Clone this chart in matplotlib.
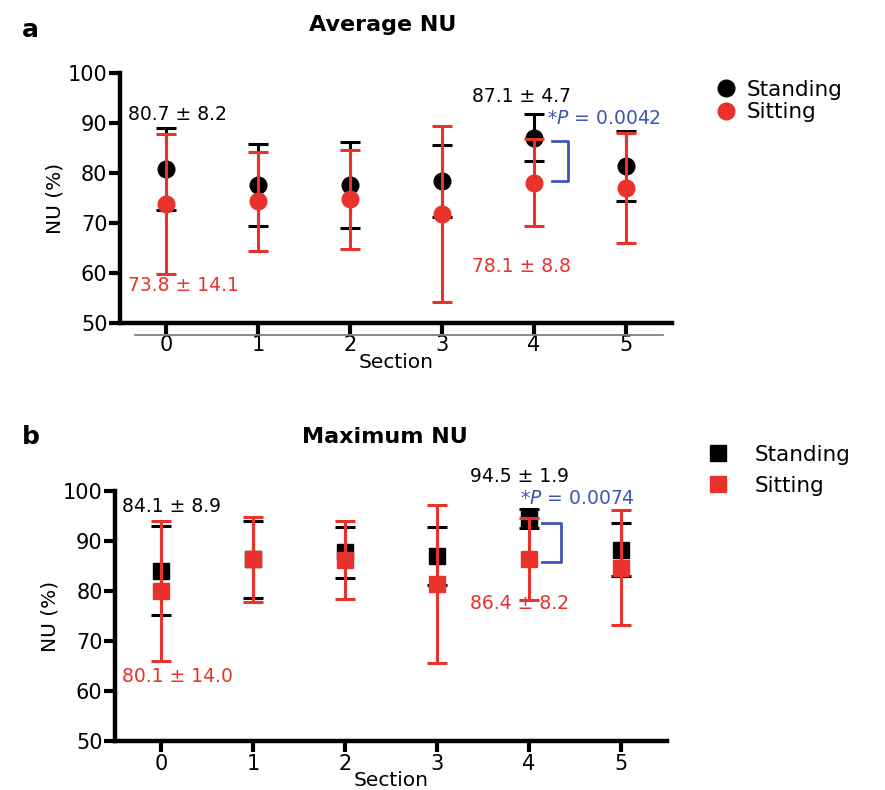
import numpy as np
import matplotlib.pyplot as plt
from matplotlib.lines import Line2D

# Dados (media +- DP)
secoes = [0, 1, 2, 3, 4, 5]

# painel a: NU medio
med_em_pe = [80.7, 77.6, 77.6, 78.4, 87.1, 81.4]
dp_em_pe = [8.2, 8.3, 8.6, 7.2, 4.7, 7.0]
med_sentado = [73.8, 74.3, 74.7, 71.8, 78.1, 77.1]
dp_sentado = [14.1, 10.0, 9.9, 17.6, 8.8, 11.0]
p_medio = 0.0042

# painel b: NU maximo
max_em_pe = [84.1, 86.4, 87.8, 87.0, 94.5, 88.3]
dpmax_em_pe = [8.9, 7.7, 5.1, 5.8, 1.9, 5.3]
max_sentado = [80.1, 86.4, 86.2, 81.4, 86.4, 84.7]
dpmax_sentado = [14.0, 8.5, 7.8, 15.7, 8.2, 11.4]
p_maximo = 0.0074

VERM = '#e8322b'
AZUL = '#3d55b3'
plt.rcParams['font.family'] = ['DejaVu Sans']

fig = plt.figure(figsize=(8.85, 7.9), dpi=100)
W, H = 885, 790


def eixo(px_esq, px_topo):
    # posicao do eixo em pixels da figura original
    return fig.add_axes([px_esq / W, 1 - (px_topo + 250) / H, 552 / W, 250 / H])


def painel(ax, m1, s1, m2, s2, marca, tam):
    ax.errorbar(secoes, m1, yerr=s1, fmt=marca, color='black', ms=tam,
                capsize=7, elinewidth=2.2, capthick=2.2, zorder=3)
    ax.errorbar(secoes, m2, yerr=s2, fmt=marca, color=VERM, ms=tam,
                capsize=7, elinewidth=2.2, capthick=2.2, zorder=4)
    ax.set_xlim(-0.5, 5.5)
    ax.set_ylim(50, 100)
    ax.set_xticks(secoes)
    ax.set_yticks(np.arange(50, 101, 10))
    for s in ['top', 'right']:
        ax.spines[s].set_visible(False)
    for s in ['left', 'bottom']:
        ax.spines[s].set_linewidth(3.2)
    ax.tick_params(axis='both', direction='out', length=8, width=3, labelsize=15, pad=1)
    ax.set_ylabel('NU (%)', fontsize=14.5, labelpad=2)
    ax.set_xlabel('Section', fontsize=14.5, labelpad=-2)


def colchete(ax, x0, x1, ytop, ybot):
    ax.plot([x0, x1, x1, x0], [ytop, ytop, ybot, ybot], color=AZUL, lw=2, zorder=5)


def legenda(ax, marca, tam, onde, hl, htp, ls):
    alcas = [Line2D([], [], ls='none', marker=marca, color='black', ms=tam),
             Line2D([], [], ls='none', marker=marca, color=VERM, ms=tam)]
    ax.legend(alcas, ['Standing', 'Sitting'], loc='upper left',
              bbox_to_anchor=(onde[0] / W, 1 - onde[1] / H), bbox_transform=fig.transFigure,
              frameon=False, fontsize=15.5, handlelength=hl, handletextpad=htp,
              labelspacing=ls, borderpad=0, borderaxespad=0)


# ---------- painel a ----------
ax1 = eixo(120, 73)
painel(ax1, med_em_pe, dp_em_pe, med_sentado, dp_sentado, 'o', 12)
ax1.plot([0.027, 0.984], [-0.048, -0.048], transform=ax1.transAxes,
         color='#777777', lw=1.2, clip_on=False)
ax1.text(-0.41, 91.8, f'{med_em_pe[0]:.1f} ± {dp_em_pe[0]:.1f}', fontsize=13.5, va='center')
ax1.text(-0.41, 57.4, f'{med_sentado[0]:.1f} ± {dp_sentado[0]:.1f}', fontsize=13.5,
         va='center', color=VERM)
ax1.text(3.33, 95.2, f'{med_em_pe[4]:.1f} ± {dp_em_pe[4]:.1f}', fontsize=13.5, va='center')
ax1.text(3.33, 61.2, f'{med_sentado[4]:.1f} ± {dp_sentado[4]:.1f}', fontsize=13.5,
         va='center', color=VERM)
ax1.text(4.14, 91.0, '*$\\it{P}$ = ' + f'{p_medio:.4f}', fontsize=13.5, va='center', color=AZUL)
colchete(ax1, 4.2, 4.37, 86.4, 78.4)
legenda(ax1, 'o', 12, (716, 80), 0.9, 0.5, 0.1)
fig.text(22 / W, 1 - 30 / H, 'a', fontsize=18, fontweight='bold', va='center')
fig.text(383 / W, 1 - 25 / H, 'Average NU', fontsize=16, fontweight='bold',
         va='center', ha='center')

# ---------- painel b ----------
ax2 = eixo(115, 491)
painel(ax2, max_em_pe, dpmax_em_pe, max_sentado, dpmax_sentado, 's', 12)
ax2.text(-0.42, 97.0, f'{max_em_pe[0]:.1f} ± {dpmax_em_pe[0]:.1f}', fontsize=13.5, va='center')
ax2.text(-0.42, 63.0, f'{max_sentado[0]:.1f} ± {dpmax_sentado[0]:.1f}', fontsize=13.5,
         va='center', color=VERM)
ax2.text(3.36, 102.8, f'{max_em_pe[4]:.1f} ± {dpmax_em_pe[4]:.1f}', fontsize=13.5,
         va='center', clip_on=False)
ax2.text(3.36, 77.5, f'{max_sentado[4]:.1f} ± {dpmax_sentado[4]:.1f}', fontsize=13.5,
         va='center', color=VERM)
ax2.text(3.90, 98.4, '*$\\it{P}$ = ' + f'{p_maximo:.4f}', fontsize=13.5, va='center', color=AZUL)
colchete(ax2, 4.14, 4.35, 93.7, 85.9)
legenda(ax2, 's', 12, (701, 445), 1.6, 0.9, 0.5)
fig.text(22 / W, 1 - 437 / H, 'b', fontsize=18, fontweight='bold', va='center')
fig.text(385 / W, 1 - 437 / H, 'Maximum NU', fontsize=16, fontweight='bold',
         va='center', ha='center')

fig.savefig('out.png', dpi=100)
